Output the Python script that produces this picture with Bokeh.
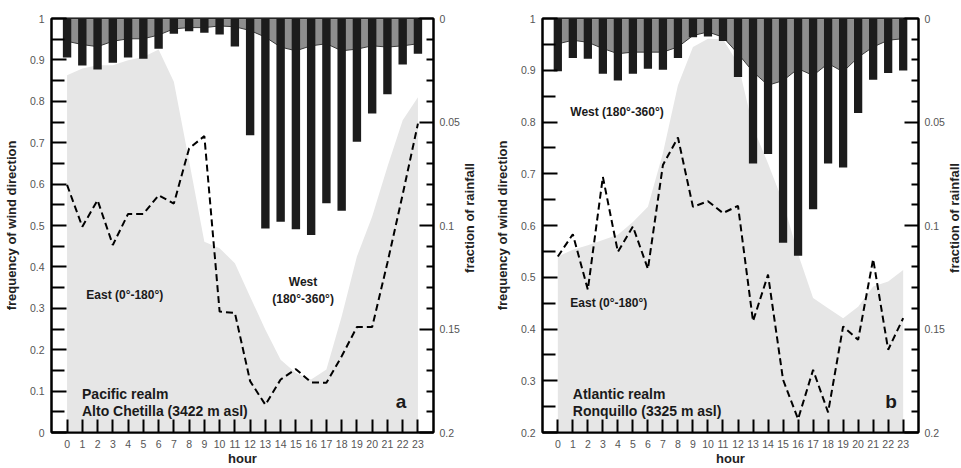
import math
from bokeh.plotting import figure
from bokeh.models import Range1d, LinearAxis, FixedTicker, CustomJSTickFormatter, Label, ColumnDataSource
from bokeh.layouts import row
from bokeh.embed import file_html
from bokeh.resources import INLINE

hours = list(range(24))

# Panel a: Pacific realm, Alto Chetilla
east_a = [0.863, 0.879, 0.887, 0.887, 0.899, 0.907, 0.925, 0.847, 0.656, 0.461, 0.445, 0.409,
          0.328, 0.248, 0.176, 0.144, 0.128, 0.152, 0.280, 0.425, 0.522, 0.642, 0.754, 0.810]
dash_a = [0.598, 0.497, 0.561, 0.453, 0.528, 0.528, 0.573, 0.553, 0.686, 0.716, 0.292, 0.289,
          0.124, 0.067, 0.128, 0.153, 0.121, 0.120, 0.184, 0.255, 0.255, 0.410, 0.575, 0.746]
rain_a = [0.0189, 0.0227, 0.0246, 0.0214, 0.0189, 0.0194, 0.0146, 0.0074, 0.0061, 0.0069, 0.0077, 0.0135,
          0.0564, 0.1014, 0.0982, 0.1018, 0.1046, 0.0893, 0.0929, 0.0596, 0.0459, 0.0366, 0.0222, 0.0170]
dark_a = [0.945, 0.937, 0.932, 0.945, 0.951, 0.951, 0.960, 0.975, 0.978, 0.978, 0.982, 0.980,
          0.971, 0.955, 0.931, 0.922, 0.934, 0.939, 0.922, 0.926, 0.934, 0.931, 0.934, 0.939]

# Panel b: Atlantic realm, Ronquillo
east_b = [0.540, 0.553, 0.562, 0.572, 0.582, 0.607, 0.636, 0.740, 0.871, 0.945, 0.961, 0.960,
          0.913, 0.790, 0.720, 0.645, 0.545, 0.460, 0.440, 0.421, 0.443, 0.482, 0.492, 0.514]
dash_b = [0.540, 0.583, 0.476, 0.694, 0.549, 0.598, 0.516, 0.717, 0.770, 0.636, 0.647, 0.624,
          0.638, 0.415, 0.505, 0.302, 0.226, 0.321, 0.239, 0.405, 0.379, 0.535, 0.360, 0.421]
rain_b = [0.0255, 0.0191, 0.0194, 0.0267, 0.0299, 0.0267, 0.0243, 0.0247, 0.0191, 0.0090, 0.0087, 0.0109,
          0.0283, 0.0700, 0.0655, 0.1083, 0.1146, 0.0922, 0.0700, 0.0720, 0.0456, 0.0296, 0.0263, 0.0251]
dark_b = [0.951, 0.958, 0.954, 0.942, 0.932, 0.935, 0.935, 0.935, 0.945, 0.967, 0.974, 0.964,
          0.932, 0.897, 0.871, 0.880, 0.903, 0.890, 0.913, 0.897, 0.925, 0.945, 0.958, 0.961]

left_ticks_a = [0, 0.1, 0.2, 0.3, 0.4, 0.5, 0.6, 0.7, 0.8, 0.9, 1.0]
left_minor_a = [0.05, 0.15, 0.25, 0.35, 0.45, 0.55, 0.65, 0.75, 0.85, 0.95]
left_ticks_b = [0.2, 0.3, 0.4, 0.5, 0.6, 0.7, 0.8, 0.9, 1.0]
left_minor_b = [0.25, 0.35, 0.45, 0.55, 0.65, 0.75, 0.85, 0.95]
rain_ticks = [0, 0.05, 0.1, 0.15, 0.2]
rain_minor = [0.01, 0.02, 0.03, 0.04, 0.06, 0.07, 0.08, 0.09, 0.11, 0.12, 0.13, 0.14,
              0.16, 0.17, 0.18, 0.19]

FONT = "Liberation Sans"
H = 468
fmt_code = "return String(Math.round(tick*1000)/1000);"


def panel(width, bl, br, ymin, lticks, lminor, east, dash, rain, dark, texts):
    p = figure(width=width, height=H, x_range=Range1d(-1.02, 24.02), y_range=Range1d(ymin, 1.0),
               output_backend="svg", toolbar_location=None,
               min_border_left=bl, min_border_right=br, min_border_top=18, min_border_bottom=35)
    p.extra_y_ranges = {"rain": Range1d(start=0.2, end=0.0)}
    p.grid.visible = False
    p.outline_line_color = "black"
    p.outline_line_width = 2
    p.background_fill_color = "white"

    src = ColumnDataSource(dict(hour=hours, east=east, dash=dash, rain=rain, dark=dark))
    p.varea(x="hour", y1=ymin, y2="east", source=src, fill_color="#e6e6e6")
    p.varea(x="hour", y1="dark", y2=1.0, source=src, fill_color="#8e8e8e")
    p.line(x="hour", y="dark", source=src, line_color="#3a3a3a", line_width=1)
    p.vbar(x="hour", width=0.55, top=0.0, bottom="rain", source=src, y_range_name="rain",
           fill_color="#1c1c1c", line_color=None)
    p.line(x="hour", y="dash", source=src, line_color="black", line_width=2, line_dash="7 4")

    # x axis
    xa = p.xaxis[0]
    xa.ticker = FixedTicker(ticks=hours, minor_ticks=[])
    xa.major_tick_in = 13
    xa.major_tick_out = 0
    xa.major_tick_line_width = 2
    xa.axis_line_width = 2
    xa.major_label_standoff = 7
    xa.major_label_text_font = FONT
    xa.major_label_text_font_size = "10.5px"
    xa.major_label_text_color = "#555555"
    xa.axis_label = "hour"
    xa.axis_label_standoff = 0
    xa.axis_label_text_font = FONT
    xa.axis_label_text_font_size = "13px"
    xa.axis_label_text_font_style = "bold"
    xa.axis_label_text_color = "#222222"

    # left axis
    ya = p.yaxis[0]
    ya.ticker = FixedTicker(ticks=lticks, minor_ticks=lminor)
    ya.formatter = CustomJSTickFormatter(code=fmt_code)
    ya.major_tick_in = 15
    ya.major_tick_out = 0
    ya.minor_tick_in = 13
    ya.minor_tick_out = 0
    ya.major_tick_line_width = 2
    ya.minor_tick_line_width = 2
    ya.axis_line_width = 2
    ya.major_label_standoff = 7
    ya.major_label_text_font = FONT
    ya.major_label_text_font_size = "10.5px"
    ya.major_label_text_color = "#555555"
    ya.axis_label = "frequency of wind direction"
    ya.axis_label_standoff = 8
    ya.axis_label_text_font = FONT
    ya.axis_label_text_font_size = "13px"
    ya.axis_label_text_font_style = "bold"
    ya.axis_label_text_color = "#222222"

    # right axis (rainfall fraction, increasing downwards)
    ra = LinearAxis(y_range_name="rain", ticker=FixedTicker(ticks=rain_ticks, minor_ticks=rain_minor),
                    formatter=CustomJSTickFormatter(code=fmt_code))
    ra.major_tick_in = 14
    ra.major_tick_out = 0
    ra.minor_tick_in = 7
    ra.minor_tick_out = 0
    ra.major_tick_line_width = 2
    ra.minor_tick_line_width = 2
    ra.axis_line_width = 2
    ra.major_label_standoff = 6
    ra.major_label_text_font = FONT
    ra.major_label_text_font_size = "10.5px"
    ra.major_label_text_color = "#555555"
    p.add_layout(ra, "right")

    for (tx, ty, t, size, align) in texts:
        p.add_layout(Label(x=tx, y=ty, text=t, text_align=align, text_baseline="middle",
                           text_font=FONT, text_font_size=size, text_font_style="bold",
                           text_color="#1a1a1a"))
    return p


def side_label(width, cx, text):
    # narrow strip holding the right-hand axis title, reading bottom to top
    s = figure(width=width, height=H, x_range=Range1d(0, width), y_range=Range1d(0, H),
               x_axis_type=None, y_axis_type=None, output_backend="svg", toolbar_location=None,
               min_border_left=0, min_border_right=0, min_border_top=0, min_border_bottom=0)
    s.grid.visible = False
    s.outline_line_color = None
    s.add_layout(Label(x=cx, y=H - 225.5, text=text, angle=math.pi / 2, text_align="center",
                       text_baseline="middle", text_font=FONT, text_font_size="13px",
                       text_font_style="bold", text_color="#222222"))
    return s


texts_a = [
    (1.26, 0.333, "East (0°-180°)", "12px", "left"),
    (15.47, 0.364, "West", "12px", "center"),
    (15.47, 0.323, "(180°-360°)", "12px", "center"),
    (0.98, 0.094, "Pacific realm", "14px", "left"),
    (0.98, 0.051, "Alto Chetilla (3422 m asl)", "14px", "left"),
    (21.9, 0.075, "a", "19px", "center"),
]
texts_b = [
    (0.83, 0.819, "West (180°-360°)", "12px", "left"),
    (0.83, 0.450, "East (0°-180°)", "12px", "left"),
    (1.0, 0.2746, "Atlantic realm", "14px", "left"),
    (1.0, 0.241, "Ronquillo (3325 m asl)", "14px", "left"),
    (22.2, 0.260, "b", "19px", "center"),
]

pa = panel(462, 51, 27, 0.0, left_ticks_a, left_minor_a, east_a, dash_a, rain_a, dark_a, texts_a)
sa = side_label(18, 7, "fraction of rainfall")
pb = panel(467, 62, 27, 0.2, left_ticks_b, left_minor_b, east_b, dash_b, rain_b, dark_b, texts_b)
sb = side_label(14, 7, "fraction of rainfall")

layout = row(pa, sa, pb, sb, spacing=0)
open("out.html", "w").write(file_html(layout, INLINE))
